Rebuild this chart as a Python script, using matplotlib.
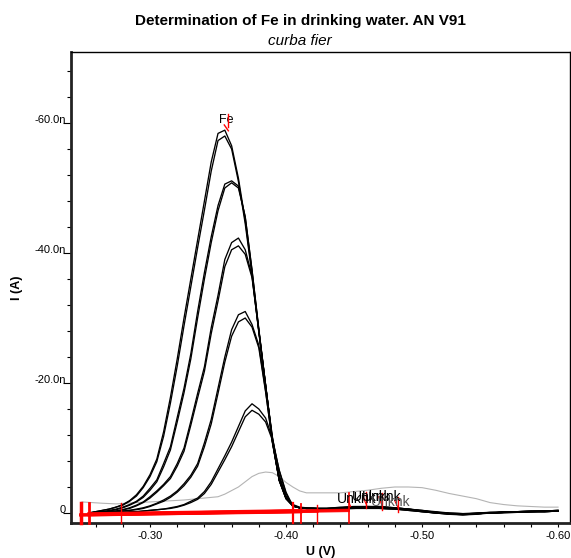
import matplotlib
matplotlib.use('Agg')
import matplotlib.pyplot as plt
import matplotlib.ticker as ticker

plt.rcParams['font.family'] = ['Liberation Sans', 'DejaVu Sans']

# voltage grid (V) shared by the ten voltammograms
U = [-0.255, -0.260, -0.265, -0.270, -0.275, -0.280, -0.285, -0.290, -0.295, -0.300,
     -0.305, -0.310, -0.315, -0.320, -0.325, -0.330, -0.335, -0.340, -0.345, -0.350,
     -0.355, -0.360, -0.365, -0.370, -0.375, -0.380, -0.385, -0.390, -0.395, -0.400,
     -0.405, -0.410, -0.415, -0.420,
     -0.43, -0.44, -0.45, -0.46, -0.47, -0.48, -0.49, -0.50, -0.51, -0.52,
     -0.53, -0.54, -0.55, -0.56, -0.57, -0.58, -0.59, -0.60]

# currents in nA
A1 = [0, -0.2, -0.4, -0.6, -0.9, -1.3, -1.9, -2.8, -4.1, -5.9, -8.3, -12.5, -17.8, -23.7, -30.0, -36.0, -42.0,
      -48.0, -54.0, -58.4, -58.9, -56.5, -51.5, -45.0, -37.0, -28.0, -19.5, -11.5, -5.5, -2.4, -1.2, -0.8, -0.7, -0.7,
      -0.7, -0.8, -0.9, -1.0, -0.9, -0.8, -0.6, -0.3, -0.1, 0.1, 0.2, 0.1, 0.0, -0.1, -0.2, -0.2, -0.3, -0.4]
A2 = [0, -0.2, -0.4, -0.6, -0.9, -1.2, -1.8, -2.6, -3.9, -5.6, -7.9, -11.8, -16.9, -22.6, -28.8, -34.8, -40.8,
      -46.6, -52.6, -57.3, -58.0, -56.0, -51.0, -44.5, -36.6, -27.8, -19.4, -11.7, -5.8, -2.6, -1.3, -0.9, -0.8, -0.7,
      -0.7, -0.9, -1.0, -1.0, -1.0, -0.8, -0.6, -0.4, -0.2, 0.0, 0.1, 0.1, -0.1, -0.2, -0.2, -0.3, -0.3, -0.4]
B1 = [0, -0.1, -0.2, -0.4, -0.6, -0.9, -1.3, -1.8, -2.6, -3.8, -5.1, -7.6, -10.2, -14.7, -19.2, -24.5, -31.0,
      -37.0, -42.5, -47.3, -50.6, -51.1, -50.3, -45.5, -37.3, -28.2, -19.6, -11.2, -5.2, -2.3, -1.2, -0.8, -0.7, -0.7,
      -0.6, -0.7, -0.8, -0.9, -0.9, -0.7, -0.5, -0.3, 0.0, 0.2, 0.3, 0.1, 0.0, 0.0, -0.1, -0.2, -0.2, -0.3]
B2 = [0, -0.1, -0.2, -0.3, -0.5, -0.8, -1.2, -1.7, -2.4, -3.5, -4.8, -7.1, -9.7, -14.0, -18.5, -23.7, -30.0,
      -36.0, -41.6, -46.5, -50.0, -50.8, -50.0, -45.6, -37.4, -28.3, -19.7, -11.0, -5.0, -2.2, -1.1, -0.8, -0.7, -0.7,
      -0.6, -0.8, -0.9, -0.9, -0.8, -0.7, -0.6, -0.3, -0.1, 0.1, 0.2, 0.0, -0.1, -0.1, -0.2, -0.3, -0.3, -0.4]
C1 = [0, -0.1, -0.1, -0.2, -0.3, -0.5, -0.8, -1.2, -1.7, -2.5, -3.4, -4.4, -5.6, -7.6, -10.0, -14.1, -18.4,
      -22.5, -28.5, -33.5, -39.0, -41.6, -42.3, -40.5, -36.5, -28.0, -19.6, -11.0, -5.0, -2.2, -1.1, -0.8, -0.7, -0.7,
      -0.7, -0.8, -0.9, -0.8, -0.8, -0.7, -0.5, -0.2, 0.0, 0.2, 0.2, 0.1, 0.0, -0.1, -0.1, -0.2, -0.3, -0.3]
C2 = [0, -0.1, -0.1, -0.2, -0.3, -0.5, -0.7, -1.1, -1.6, -2.3, -3.2, -4.2, -5.3, -7.2, -9.5, -13.5, -17.7,
      -21.8, -27.6, -32.6, -37.9, -40.5, -41.1, -39.8, -36.2, -28.0, -19.7, -11.1, -5.1, -2.3, -1.1, -0.8, -0.7, -0.7,
      -0.6, -0.7, -0.8, -0.9, -0.9, -0.8, -0.6, -0.4, -0.1, 0.1, 0.3, 0.2, 0.0, -0.1, -0.2, -0.2, -0.2, -0.3]
D1 = [0, 0, -0.1, -0.1, -0.2, -0.3, -0.4, -0.6, -0.8, -1.1, -1.5, -2.0, -2.6, -3.4, -4.5, -5.8, -7.6,
      -10.8, -14.4, -19.2, -24.0, -28.2, -30.5, -31.0, -29.0, -25.8, -18.8, -10.8, -5.0, -2.2, -1.1, -0.8, -0.7, -0.7,
      -0.6, -0.7, -0.8, -0.8, -0.7, -0.6, -0.4, -0.2, 0.0, 0.1, 0.2, 0.1, 0.0, -0.1, -0.1, -0.2, -0.2, -0.3]
D2 = [0, 0, -0.1, -0.1, -0.2, -0.3, -0.4, -0.5, -0.7, -1.0, -1.4, -1.8, -2.4, -3.2, -4.2, -5.5, -7.2,
      -10.2, -13.7, -18.4, -23.2, -27.2, -29.4, -30.0, -28.6, -25.4, -18.6, -10.9, -5.1, -2.3, -1.1, -0.8, -0.7, -0.7,
      -0.7, -0.8, -0.8, -0.9, -0.8, -0.7, -0.5, -0.3, -0.1, 0.1, 0.1, 0.0, 0.0, -0.1, -0.2, -0.3, -0.3, -0.3]
E1 = [0, 0, 0, 0, -0.1, -0.1, -0.2, -0.2, -0.3, -0.4, -0.5, -0.6, -0.8, -1.0, -1.3, -1.8, -2.3,
      -3.3, -4.8, -6.8, -8.8, -10.9, -13.3, -15.7, -16.8, -16.0, -14.6, -11.5, -6.5, -3.0, -1.0, -0.8, -0.7, -0.7,
      -0.6, -0.7, -0.7, -0.8, -0.7, -0.6, -0.5, -0.3, -0.1, 0.0, 0.1, 0.1, 0.0, -0.1, -0.1, -0.2, -0.2, -0.3]
E2 = [0, 0, 0, 0, -0.1, -0.1, -0.1, -0.2, -0.3, -0.4, -0.5, -0.6, -0.7, -0.9, -1.2, -1.6, -2.1,
      -3.0, -4.4, -6.3, -8.2, -10.2, -12.5, -14.8, -15.8, -15.2, -14.0, -11.2, -6.6, -3.2, -1.1, -0.8, -0.7, -0.7,
      -0.6, -0.6, -0.7, -0.7, -0.7, -0.6, -0.4, -0.2, 0.0, 0.1, 0.2, 0.1, 0.0, -0.1, -0.1, -0.2, -0.3, -0.3]
CURVES = [A1, A2, B1, B2, C1, C2, D1, D2, E1, E2]

# blank (grey curve)
U_BLANK = [-0.250, -0.265, -0.275, -0.290, -0.300, -0.325, -0.350, -0.355, -0.365, -0.375, -0.380, -0.385,
           -0.390, -0.395, -0.400, -0.405, -0.410, -0.415, -0.430, -0.440, -0.450, -0.460, -0.470, -0.480,
           -0.490, -0.500, -0.510, -0.520, -0.530, -0.540, -0.550, -0.560, -0.570, -0.580, -0.590, -0.600]
I_BLANK = [-1.7, -1.5, -1.4, -1.6, -1.7, -2.0, -2.5, -2.9, -4.0, -5.6, -6.1, -6.3,
           -6.2, -5.6, -4.7, -4.0, -3.4, -3.1, -3.1, -3.1, -3.3, -3.5, -3.8, -4.0,
           -4.0, -3.9, -3.5, -3.0, -2.6, -2.2, -1.6, -1.3, -1.1, -1.0, -0.9, -0.9]

# baselines: (U start, I start, U end, I end)
BASELINES = [(-0.249, 0.35, -0.446, -0.35), (-0.249, 0.30, -0.405, -0.25), (-0.255, 0.25, -0.411, -0.30),
             (-0.255, 0.20, -0.405, -0.20), (-0.255, 0.15, -0.423, -0.35), (-0.255, 0.30, -0.411, -0.15),
             (-0.279, 0.10, -0.446, -0.45), (-0.255, 0.20, -0.405, -0.30), (-0.249, 0.25, -0.423, -0.25),
             (-0.255, 0.10, -0.411, -0.40)]
BASE_MARK_U = [-0.249, -0.255, -0.279, -0.405, -0.411, -0.423, -0.446]
BASE_MARK_TOP = [-1.5, -1.5, -1.5, -1.5, -1.4, -1.3, -3.0]
BASE_MARK_LW = [2.5, 2.0, 1.0, 1.6, 1.3, 1.0, 1.2]

# peak markers for unknown peaks
UNK_U = [-0.4588, -0.4706, -0.4824]
UNK_TOP = [-3.2, -3.1, -2.5]
UNK_BOT = [-0.8, -0.5, -0.2]
UNK_LABEL_U = [-0.4375, -0.4485, -0.4559, -0.4625]
UNK_LABEL_I = [-2.15, -2.45, -2.45, -1.7]
UNK_LABEL_C = ['black', 'black', 'black', '#555555']

FE_U, FE_I = -0.356, -60.5

fig = plt.figure(figsize=(5.71, 5.58), dpi=100)
ax = fig.add_axes([71/571, 35/558, 499/571, 471.3/558])

ax.plot(U_BLANK, I_BLANK, color='#b4b4b4', lw=0.8, zorder=2)
for c in CURVES:
    ax.plot(U, c, color='black', lw=0.95, zorder=3)

for u0, i0, u1, i1 in BASELINES:
    ax.plot([u0, u1], [i0, i1], color='red', lw=2.0, alpha=0.9, zorder=4)
for u, top, lw in zip(BASE_MARK_U, BASE_MARK_TOP, BASE_MARK_LW):
    ax.plot([u, u], [1.6, top], color='red', lw=lw, zorder=4, clip_on=False)

for u, t, b in zip(UNK_U, UNK_TOP, UNK_BOT):
    ax.plot([u, u], [t, b], color='red', lw=1.0, zorder=4)
    ax.plot([u + 0.0025, u], [t + 0.6, b - 0.6], color='red', lw=0.8, zorder=4)
ax.plot([-0.4455, -0.4475], [-2.0, -1.0], color='red', lw=0.8, zorder=4)

for u, i, c in zip(UNK_LABEL_U, UNK_LABEL_I, UNK_LABEL_C):
    ax.text(u, i, 'Unknk', fontsize=10, color=c, ha='left', va='center', zorder=5)

ax.text(FE_U, FE_I, 'Fe', fontsize=9, ha='center', va='center', zorder=5)
ax.plot([-0.3576, -0.3576], [-61.4, -59.4], color='red', lw=1.0, zorder=6)
ax.plot([-0.3546, -0.3576], [-59.7, -58.8], color='red', lw=1.0, zorder=6)

ax.set_xlim(-0.2419, -0.6088)
ax.set_ylim(1.54, -70.97)

ax.xaxis.set_major_locator(ticker.FixedLocator([-0.3, -0.4, -0.5, -0.6]))
ax.xaxis.set_major_formatter(ticker.FuncFormatter(lambda v, p: '%.2f' % v))
ax.xaxis.set_minor_locator(ticker.MultipleLocator(0.02))
ax.yaxis.set_major_locator(ticker.MultipleLocator(20))
ax.yaxis.set_minor_locator(ticker.MultipleLocator(4))
ax.yaxis.set_major_formatter(ticker.FuncFormatter(lambda v, p: '0' if abs(v) < 1e-9 else '%.1fn' % v))

ax.tick_params(axis='x', which='both', direction='out', length=3, width=0.8, labelsize=8, pad=3)
ax.tick_params(axis='y', which='major', direction='out', length=5.5, width=0.8, labelsize=8, pad=-2)
ax.tick_params(axis='y', which='minor', direction='out', length=3, width=0.8)
for lab in ax.get_yticklabels():
    lab.set_va('baseline')

ax.spines['left'].set_linewidth(2)
ax.spines['bottom'].set_linewidth(2)
ax.spines['left'].set_color('#222222')
ax.spines['bottom'].set_color('#222222')
ax.spines['top'].set_linewidth(1)
ax.spines['right'].set_linewidth(1)

ax.set_xlabel('U (V)', fontsize=9, fontweight='bold', labelpad=3)
ax.set_ylabel('I (A)', fontsize=9, fontweight='bold')
ax.yaxis.set_label_coords(-(71 - 23) / 499, 0.5)

fig.text(300/571, 1 - 20.7/558, 'Determination of Fe in drinking water. AN V91', fontsize=11,
         fontweight='bold', ha='center', va='center')
fig.text(300/571, 1 - 41/558, 'curba fier', fontsize=11, style='italic', ha='center', va='center')

fig.savefig('out.png', dpi=100)
